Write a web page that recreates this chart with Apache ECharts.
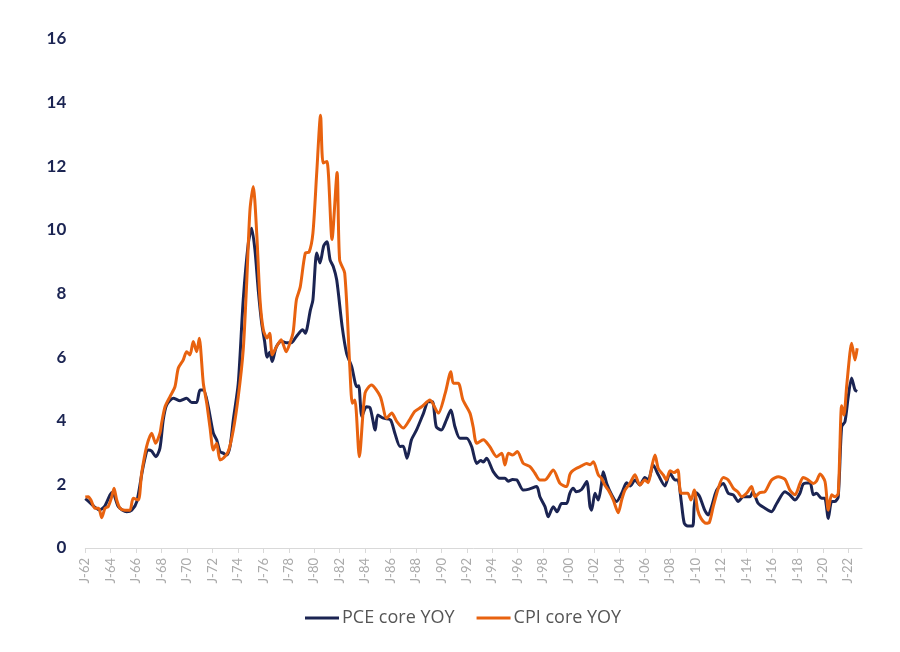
<!DOCTYPE html>
<html>
<head>
<meta charset="utf-8">
<script src="https://cdn.jsdelivr.net/npm/echarts@6/dist/echarts.min.js"></script>
<style>html,body{margin:0;padding:0;background:#fff}#c{width:900px;height:652px}</style>
</head>
<body>
<div id="c"></div>
<script>
// x ticks: every two years, labelled "J-yy"
var yTicks = [0, 2, 4, 6, 8, 10, 12, 14, 16];
var seriesNames = ['PCE core YOY', 'CPI core YOY'];

// [decimal year, % YoY]
var pce = [
[1962.0,1.55],[1962.3,1.45],[1962.7,1.3],[1963.1,1.2],[1963.5,1.3],[1963.95,1.67],[1964.15,1.75],[1964.6,1.3],[1965.25,1.14],[1965.65,1.19],[1966.05,1.46],[1966.55,2.56],[1966.95,3.08],[1967.2,3.05],[1967.55,2.87],[1967.87,3.14],[1968.13,4.03],[1968.4,4.5],[1968.92,4.71],[1969.45,4.63],[1969.97,4.71],[1970.37,4.57],[1970.75,4.57],[1971.02,4.97],[1971.3,4.97],[1971.67,4.44],[1972.07,3.61],[1972.33,3.4],[1972.6,3.03],[1972.85,2.98],[1973.12,2.92],[1973.38,3.19],[1973.64,4.03],[1974.03,5.18],[1974.42,7.8],[1974.82,9.58],[1975.08,10.05],[1975.34,9.37],[1975.6,8.11],[1975.87,7.07],[1976.1,6.5],[1976.3,6.0],[1976.5,6.15],[1976.7,5.86],[1977.0,6.3],[1977.4,6.5],[1977.8,6.45],[1978.2,6.45],[1978.6,6.65],[1979.1,6.86],[1979.3,6.75],[1979.7,7.48],[1979.9,7.8],[1980.2,9.27],[1980.45,8.96],[1980.75,9.5],[1981.0,9.63],[1981.25,9.06],[1981.5,8.85],[1981.77,8.43],[1982.2,6.96],[1982.55,6.12],[1982.95,5.7],[1983.35,5.07],[1983.5,5.1],[1983.75,4.13],[1984.1,4.44],[1984.4,4.4],[1984.8,3.71],[1985.0,4.18],[1985.45,4.08],[1986.0,4.03],[1986.35,3.6],[1986.75,3.19],[1987.0,3.2],[1987.3,2.82],[1987.65,3.4],[1988.05,3.71],[1988.6,4.24],[1988.97,4.6],[1989.3,4.6],[1989.6,3.81],[1990.0,3.71],[1990.4,4.03],[1990.75,4.34],[1991.07,3.81],[1991.46,3.45],[1991.99,3.45],[1992.38,3.19],[1992.78,2.66],[1993.1,2.75],[1993.3,2.7],[1993.56,2.82],[1994.08,2.4],[1994.6,2.19],[1995.0,2.19],[1995.26,2.1],[1995.6,2.15],[1995.92,2.14],[1996.44,1.82],[1996.9,1.85],[1997.5,1.93],[1997.75,1.61],[1998.15,1.3],[1998.4,0.98],[1998.8,1.3],[1999.1,1.14],[1999.46,1.4],[1999.85,1.4],[2000.1,1.72],[2000.37,1.88],[2000.6,1.77],[2001.03,1.84],[2001.43,2.09],[2001.69,1.3],[2001.82,1.19],[2002.08,1.72],[2002.34,1.51],[2002.6,2.03],[2002.73,2.4],[2003.0,2.03],[2003.4,1.67],[2003.78,1.46],[2004.18,1.72],[2004.57,2.05],[2004.85,1.95],[2005.23,2.14],[2005.62,1.98],[2006.0,2.22],[2006.27,2.14],[2006.66,2.61],[2007.06,2.3],[2007.58,1.95],[2007.98,2.35],[2008.37,2.14],[2008.6,2.14],[2008.85,1.51],[2009.1,0.78],[2009.37,0.69],[2009.76,0.69],[2009.88,1.3],[2010.06,1.74],[2010.32,1.61],[2010.71,1.19],[2010.99,1.04],[2011.25,1.3],[2011.65,1.82],[2012.17,2.03],[2012.56,1.72],[2012.96,1.67],[2013.35,1.46],[2013.74,1.61],[2014.27,1.61],[2014.5,1.77],[2014.92,1.4],[2015.45,1.25],[2015.97,1.14],[2016.37,1.4],[2017.02,1.77],[2017.4,1.67],[2017.81,1.51],[2018.2,1.72],[2018.46,2.01],[2018.99,2.05],[2019.25,1.67],[2019.5,1.72],[2019.91,1.56],[2020.15,1.56],[2020.43,0.93],[2020.69,1.46],[2020.95,1.46],[2021.21,1.61],[2021.48,3.81],[2021.74,3.97],[2022.0,4.76],[2022.26,5.34],[2022.53,4.97],[2022.7,4.92]
];

var cpi = [
[1962.0,1.6],[1962.24,1.61],[1962.45,1.5],[1962.76,1.25],[1963.05,1.25],[1963.29,0.95],[1963.55,1.25],[1963.8,1.3],[1964.08,1.61],[1964.26,1.88],[1964.47,1.51],[1964.73,1.25],[1965.12,1.19],[1965.51,1.19],[1965.77,1.56],[1966.17,1.51],[1966.43,2.35],[1966.82,3.19],[1967.22,3.61],[1967.53,3.29],[1967.87,3.61],[1968.0,3.92],[1968.27,4.44],[1968.66,4.76],[1969.05,5.07],[1969.31,5.65],[1969.7,5.91],[1969.97,6.17],[1970.23,6.07],[1970.49,6.49],[1970.76,6.17],[1970.96,6.59],[1971.28,5.18],[1971.55,4.55],[1971.8,3.81],[1972.07,3.08],[1972.33,3.29],[1972.59,2.77],[1972.85,2.82],[1973.24,3.03],[1973.64,3.71],[1974.03,4.76],[1974.42,6.23],[1974.69,8.32],[1974.95,10.63],[1975.21,11.36],[1975.48,9.9],[1975.74,7.8],[1976.0,6.86],[1976.3,6.6],[1976.5,6.75],[1976.7,6.07],[1977.0,6.3],[1977.4,6.55],[1977.8,6.17],[1978.1,6.45],[1978.35,6.8],[1978.6,7.8],[1978.9,8.2],[1979.3,9.27],[1979.6,9.3],[1979.9,9.9],[1980.2,11.8],[1980.5,13.6],[1980.7,12.1],[1981.0,12.15],[1981.4,9.7],[1981.8,11.8],[1982.0,9.06],[1982.4,8.64],[1982.8,5.7],[1983.0,4.55],[1983.2,4.65],[1983.55,2.87],[1984.0,4.87],[1984.5,5.12],[1985.2,4.76],[1985.7,4.08],[1986.1,4.24],[1986.5,3.97],[1987.0,3.77],[1987.5,4.03],[1987.9,4.29],[1988.45,4.44],[1989.1,4.65],[1989.76,4.24],[1990.3,4.86],[1990.75,5.54],[1990.94,5.18],[1991.33,5.18],[1991.7,4.65],[1992.25,4.24],[1992.5,3.81],[1992.78,3.29],[1993.3,3.4],[1993.8,3.19],[1994.35,2.87],[1994.75,2.98],[1995.0,2.61],[1995.27,2.98],[1995.6,2.92],[1995.97,3.03],[1996.44,2.66],[1996.97,2.56],[1997.36,2.35],[1997.75,2.14],[1998.15,2.14],[1998.8,2.45],[1999.33,2.03],[1999.85,1.93],[2000.1,2.3],[2000.25,2.4],[2000.6,2.5],[2001.03,2.58],[2001.43,2.66],[2001.7,2.62],[2001.95,2.71],[2002.34,2.3],[2002.6,2.19],[2002.85,1.98],[2003.13,1.82],[2003.52,1.51],[2003.91,1.11],[2004.18,1.51],[2004.44,1.82],[2004.83,2.03],[2005.22,2.3],[2005.62,1.98],[2006.0,2.14],[2006.27,2.05],[2006.55,2.56],[2006.8,2.92],[2007.06,2.5],[2007.45,2.3],[2007.7,2.14],[2007.98,2.43],[2008.3,2.37],[2008.6,2.45],[2008.85,1.72],[2009.37,1.72],[2009.63,1.51],[2009.89,1.82],[2010.16,1.19],[2010.42,0.93],[2010.81,0.78],[2011.07,0.8],[2011.38,1.3],[2011.78,1.88],[2012.17,2.22],[2012.56,2.14],[2012.96,1.88],[2013.3,1.77],[2013.62,1.61],[2014.0,1.72],[2014.4,1.93],[2014.66,1.61],[2015.05,1.74],[2015.45,1.77],[2015.97,2.14],[2016.5,2.24],[2017.02,2.16],[2017.41,1.82],[2017.81,1.67],[2018.2,2.03],[2018.46,2.22],[2018.85,2.14],[2019.25,2.03],[2019.5,2.1],[2019.78,2.33],[2020.17,2.09],[2020.43,1.19],[2020.69,1.67],[2020.95,1.61],[2021.21,1.72],[2021.48,4.47],[2021.66,4.18],[2021.87,5.07],[2022.13,6.13],[2022.26,6.44],[2022.53,5.91],[2022.7,6.28]
];

var chart = echarts.init(document.getElementById('c'));
chart.setOption({
  animation: false,
  backgroundColor: '#ffffff',
  grid: { left: 85.3, right: 38, top: 39, bottom: 104, containLabel: false },
  legend: {
    data: seriesNames,
    bottom: 20,
    left: 300,
    icon: 'rect',
    itemWidth: 34,
    itemHeight: 3,
    itemGap: 22,
    textStyle: { fontFamily: 'Open Sans', fontSize: 18, color: '#555555', padding: [0,0,0,-2] }
  },
  xAxis: {
    type: 'value',
    min: 1962,
    max: 2023.08,
    interval: 2,
    splitLine: { show: false },
    axisLine: { show: true, lineStyle: { color: '#d9d9d9', width: 1 } },
    axisTick: { show: true, length: 5, lineStyle: { color: '#d9d9d9' } },
    axisLabel: {
      rotate: 90,
      margin: 10,
      color: '#aaaaaa',
      fontFamily: 'Lato',
      fontSize: 13,
      showMaxLabel: false,
      formatter: function (v) {
        if (Math.abs(v - Math.round(v)) > 1e-6 || Math.round(v) % 2 !== 0) return '';
        var yy = String(Math.round(v) % 100);
        if (yy.length < 2) yy = '0' + yy;
        return 'J-' + yy;
      }
    }
  },
  yAxis: {
    type: 'value',
    min: yTicks[0],
    max: yTicks[yTicks.length - 1],
    interval: 2,
    splitLine: { show: false },
    axisLine: { show: false },
    axisTick: { show: false },
    axisLabel: { margin: 19, color: '#1b2452', fontFamily: 'Lato', fontWeight: 'bold', fontSize: 17 }
  },
  series: [
    { name: seriesNames[0], type: 'line', data: pce, showSymbol: false, smooth: 0.25,
      lineStyle: { color: '#1b2452', width: 3 }, itemStyle: { color: '#1b2452' } },
    { name: seriesNames[1], type: 'line', data: cpi, showSymbol: false, smooth: 0.25,
      lineStyle: { color: '#e8620f', width: 3 }, itemStyle: { color: '#e8620f' } }
  ]
});
</script>
</body>
</html>
